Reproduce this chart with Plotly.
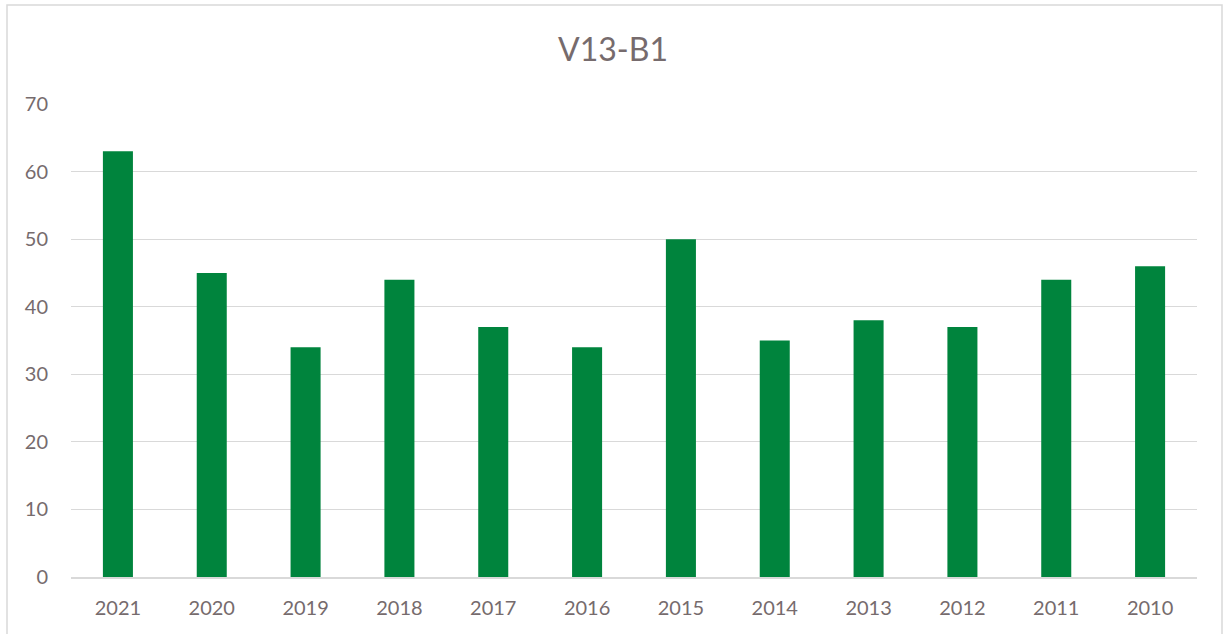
import plotly.graph_objects as go

years = ["2021", "2020", "2019", "2018", "2017", "2016", "2015", "2014", "2013", "2012", "2011", "2010"]
values = [63, 45, 34, 44, 37, 34, 50, 35, 38, 37, 44, 46]
title = "V13-B1"
y_ticks = [0, 10, 20, 30, 40, 50, 60, 70]

W, H = 1226, 634
L, R, T, B = 71, 29, 104, 57
pw, ph = W - L - R, H - T - B

def px_x(x):
    return (x - L) / pw

def px_y(y):
    return (H - B - y) / ph

text_col = "#766B6D"
fig = go.Figure(go.Bar(x=years, y=values, marker_color="#00843D", marker_line_width=0))

fig.update_layout(
    width=W, height=H,
    margin=dict(l=L, r=R, t=T, b=B, pad=0),
    paper_bgcolor="white", plot_bgcolor="white",
    bargap=0.68,
    font=dict(family="Lato, Carlito, Calibri, sans-serif", color=text_col, size=20),
    title=dict(text=title, x=0.5, xanchor="center", y=1 - 50 / H, yanchor="middle",
               font=dict(size=32, color=text_col)),
    xaxis=dict(type="category", showgrid=False, showline=True, linecolor="#D9D9D9", linewidth=2,
               ticks="", tickfont=dict(size=20, color=text_col), ticklabelstandoff=12),
    yaxis=dict(range=[0, 70], tickvals=y_ticks, showgrid=True, gridcolor="#D9D9D9", gridwidth=1,
               zeroline=False, showline=False, ticks="", tickfont=dict(size=20, color=text_col),
               ticklabelstandoff=22),
    showlegend=False,
    hovermode=False,
    shapes=[dict(type="rect", xref="paper", yref="paper",
                 x0=px_x(7), x1=px_x(1222), y0=px_y(640), y1=px_y(5),
                 line=dict(color="#D9D9D9", width=1.5), fillcolor="rgba(0,0,0,0)", layer="below")],
)

fig.write_html("out.html", config={"displayModeBar": False},
               post_script="document.body.style.margin='0px';")
